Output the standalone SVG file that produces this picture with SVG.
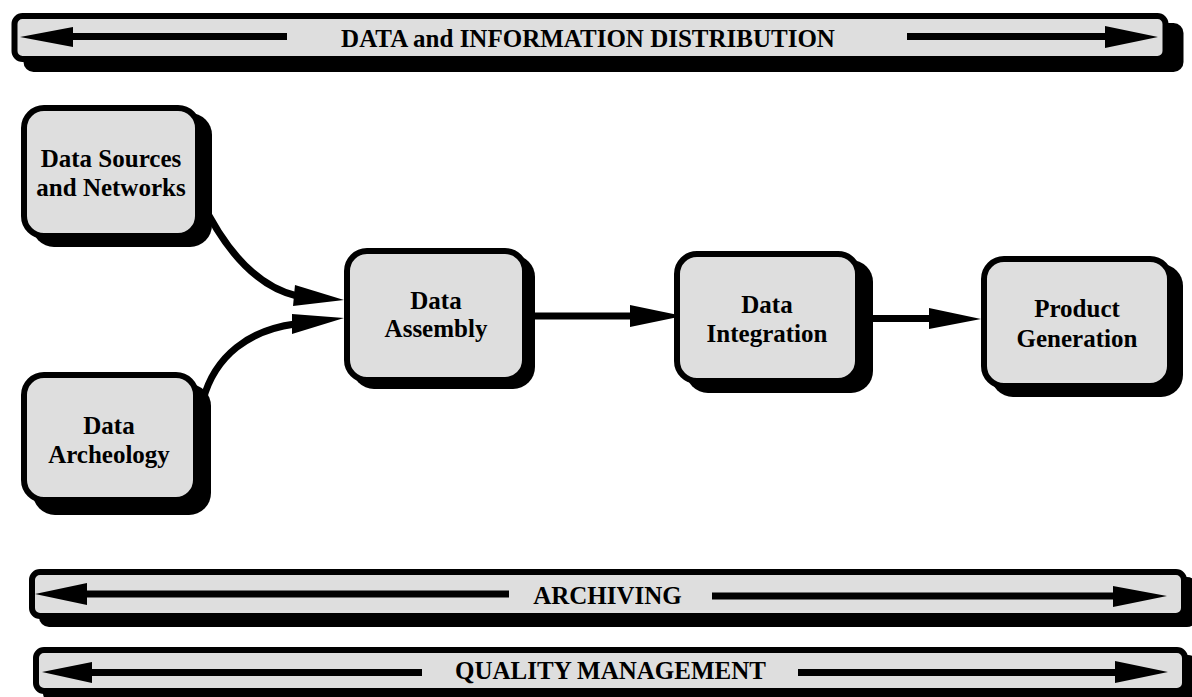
<svg xmlns="http://www.w3.org/2000/svg" width="1192" height="697" viewBox="0 0 1192 697">
<style>
.box{fill:#dedede;stroke:#000;stroke-width:6}
.sh{fill:#000}
.t{font-family:"Liberation Serif","Times New Roman",serif;font-weight:bold;font-size:25px;fill:#000;text-anchor:middle}
.ln{stroke:#000;stroke-width:7;fill:none}
.hd{fill:#000}
</style>
<rect width="1192" height="697" fill="#fff"/>
<g id="connectors">
<path class="ln" d="M200,198 C220,240 250,285 297,296"/>
<polygon class="hd" points="295,285 344,300 293,306"/>
<path class="ln" d="M203,400 C215,355 250,330 295,324"/>
<polygon class="hd" points="292,314 344,318 292,334"/>
<line class="ln" x1="520" y1="316" x2="632" y2="316"/>
<polygon class="hd" points="630,305 683,316 630,327"/>
<line class="ln" x1="855" y1="318.5" x2="931" y2="318.5"/>
<polygon class="hd" points="929,308 981,319 929,329"/>
</g>
<g id="bar-distribution">
<rect class="sh" x="23.5" y="23" width="1160" height="49" rx="10"/>
<rect class="box" x="14.5" y="16" width="1151" height="43" rx="8"/>
<line class="ln" x1="70" y1="36.5" x2="287" y2="36.5"/>
<polygon class="hd" points="20,37 73,27 73,47"/>
<line class="ln" x1="907" y1="36.5" x2="1108" y2="36.5"/>
<polygon class="hd" points="1105,26 1158,37 1105,48"/>
<text class="t" x="588" y="47">DATA and INFORMATION DISTRIBUTION</text>
</g>
<g id="node-sources">
<rect class="sh" x="32" y="113" width="180" height="134" rx="22"/>
<rect class="box" x="24" y="108" width="174" height="128" rx="20"/>
<text class="t" x="111" y="167">Data Sources</text>
<text class="t" x="111" y="196">and Networks</text>
</g>
<g id="node-archeology">
<rect class="sh" x="33" y="384" width="178" height="131" rx="22"/>
<rect class="box" x="24" y="375" width="172" height="125" rx="20"/>
<text class="t" x="109" y="434">Data</text>
<text class="t" x="109" y="463">Archeology</text>
</g>
<g id="node-assembly">
<rect class="sh" x="352" y="255" width="183" height="134" rx="22"/>
<rect class="box" x="347" y="251" width="178" height="129" rx="20"/>
<text class="t" x="436" y="309">Data</text>
<text class="t" x="436" y="337">Assembly</text>
</g>
<g id="node-integration">
<rect class="sh" x="686" y="260" width="187" height="133" rx="22"/>
<rect class="box" x="677" y="254" width="181" height="127" rx="20"/>
<text class="t" x="767" y="313">Data</text>
<text class="t" x="767" y="342">Integration</text>
</g>
<g id="node-product">
<rect class="sh" x="991" y="264" width="192" height="133" rx="22"/>
<rect class="box" x="984" y="259" width="186" height="127" rx="20"/>
<text class="t" x="1077" y="317">Product</text>
<text class="t" x="1077" y="347">Generation</text>
</g>
<g id="bar-archiving">
<rect class="sh" x="39" y="577" width="1158" height="50" rx="10"/>
<rect class="box" x="32" y="572" width="1152" height="44" rx="8"/>
<line class="ln" x1="84" y1="594" x2="509" y2="594"/>
<polygon class="hd" points="35,594 87,583 87,605"/>
<line class="ln" x1="712" y1="596" x2="1116" y2="596"/>
<polygon class="hd" points="1113,586 1167,596 1113,607"/>
<text class="t" x="607.5" y="604">ARCHIVING</text>
</g>
<g id="bar-quality">
<rect class="sh" x="43" y="655" width="1155" height="48" rx="10"/>
<rect class="box" x="36" y="650" width="1149" height="41" rx="8"/>
<line class="ln" x1="89" y1="672.5" x2="422" y2="672.5"/>
<polygon class="hd" points="42,672 92,662 92,683"/>
<line class="ln" x1="798" y1="672.5" x2="1118" y2="672.5"/>
<polygon class="hd" points="1115,661 1168,672 1115,683"/>
<text class="t" x="610.5" y="679">QUALITY MANAGEMENT</text>
</g>
</svg>
